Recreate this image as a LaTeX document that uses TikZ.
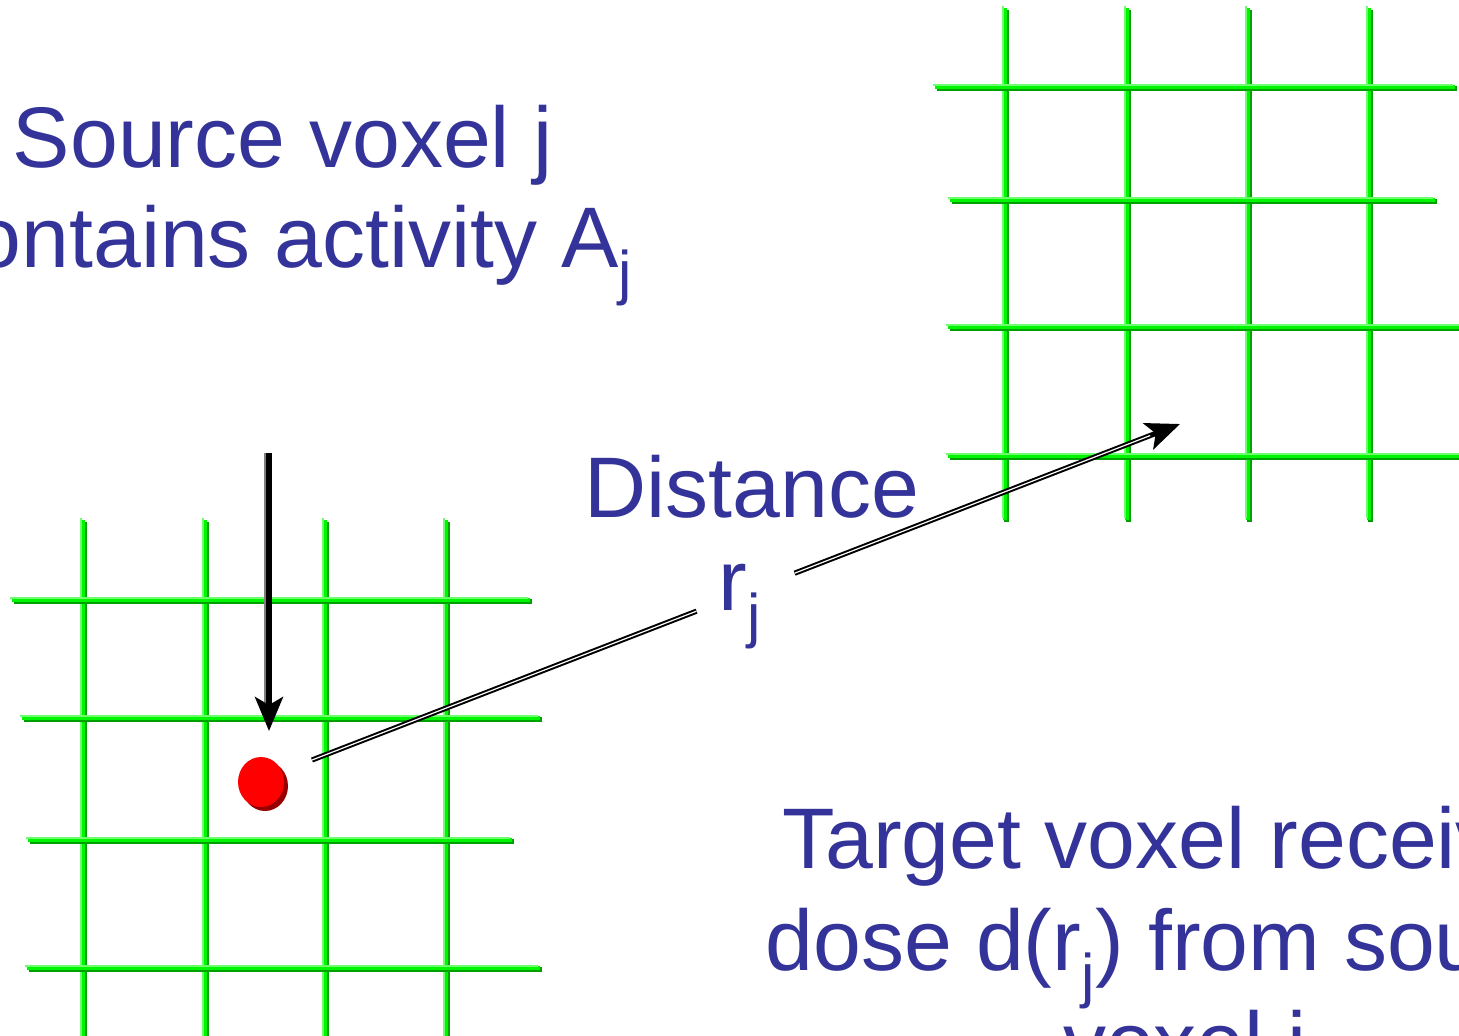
\documentclass[tikz,border=0pt]{standalone}
\usepackage{fontspec}
\setmainfont{Liberation Sans}
\usetikzlibrary{arrows.meta,calc,positioning,shapes.geometric}
\definecolor{texteBleu}{RGB}{51,51,153}
\definecolor{vertGrille}{RGB}{0,245,0}
\definecolor{vertFonce}{RGB}{0,160,0}
\definecolor{vertClair}{RGB}{110,255,110}
\definecolor{rougePoint}{RGB}{255,0,0}
\definecolor{rougeFonce}{RGB}{150,0,0}

\begin{document}
\begin{tikzpicture}[x=0.5pt,y=-0.5pt,
  ombre/.style={vertFonce,line width=2.4pt,shift={(1.6,1.6)}},
  grille/.style={vertGrille,line width=2.2pt},
  reflet/.style={vertClair,line width=1pt,shift={(-1.6,-1.6)}},
  legende/.style={font=\fontsize{43}{50}\selectfont,text=texteBleu,anchor=base,inner sep=0pt},
  fleche/.style={black,line width=2.6pt,-{Stealth[length=17pt,width=14pt,inset=4pt]}},
  trait/.style={black,line width=2.6pt},
  filet/.style={white,line width=0.6pt},
  gris/.style={gray,line width=1pt,shift={(-1,-2.8)}}]
  \useasboundingbox (0,0) rectangle (1459,1035);
  \clip (0,0) rectangle (1459,1035);

  % voxel grids
  \foreach \x in {83,205,325,446,1005,1127,1248,1369} {
    \pgfmathsetmacro{\ya}{\x<600 ? 520 : 8}
    \pgfmathsetmacro{\yb}{\x<600 ? 1045 : 520}
    \draw[ombre] (\x,\ya) -- (\x,\yb);
    \draw[grille] (\x,\ya) -- (\x,\yb);
    \draw[reflet] (\x,\ya) -- (\x,\yb);
  }
  \foreach \y/\a/\b in {600/12/530,718/22/540,840/28/512,968/27/540,
                        87/935/1455,200/950/1435,327/948/1470,456/948/1470} {
    \draw[ombre] (\a,\y) -- (\b,\y);
    \draw[grille] (\a,\y) -- (\b,\y);
    \draw[reflet] (\a,\y) -- (\b,\y);
  }

  % source point
  \fill[rougeFonce] (265,786) ellipse (23 and 25);
  \node[ellipse,fill=rougePoint,minimum width=23pt,minimum height=25pt,inner sep=0pt] (dot) at (261,782) {};

  % labels
  \node[legende] (srcA) at (283,167) {Source voxel j};
  \node[legende] (srcB) at (282,267) {contains activity A\textsubscript{j}};
  \node[legende] (distA) at (752,517) {Distance};
  \node[legende] (distB) at (740,610) {r\textsubscript{j}};
  \node[legende] (tgtA) at (1186,868) {Target voxel receives};
  \node[legende] (tgtB) at (1184,970) {dose d(r\textsubscript{j}) from source};
  \node[legende] (tgtC) at (1185,1072) {voxel i};

  % arrows
  \coordinate (flecheHaut) at (269,453);
  \draw[gray,line width=1.4pt] ([xshift=-1.6pt]flecheHaut) -- ([xshift=-1.6pt]flecheHaut |- 0,712);
  \draw[fleche] (flecheHaut) -- (flecheHaut |- 0,731);

  \coordinate (rayDebut) at (312,760);
  \coordinate (rayFin) at (1180,424);
  \coordinate (coupeA) at ($(rayDebut)!0.443!(rayFin)$);
  \coordinate (coupeB) at ($(rayDebut)!0.556!(rayFin)$);
  \draw[gris] (rayDebut) -- (coupeA);
  \draw[gris,shorten >=18pt] (coupeB) -- (rayFin);
  \draw[trait] (rayDebut) -- (coupeA);
  \draw[fleche] (coupeB) -- (rayFin);
  \draw[filet] (rayDebut) -- (coupeA);
  \draw[filet,shorten >=16pt] (coupeB) -- (rayFin);
\end{tikzpicture}
\end{document}
